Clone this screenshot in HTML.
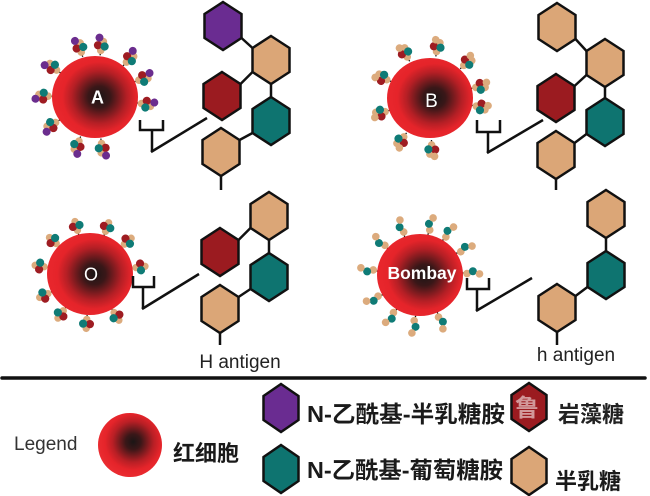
<!DOCTYPE html>
<html><head><meta charset="utf-8"><style>
html,body{margin:0;padding:0;background:#fff;}
svg{display:block;}
text{font-family:"Liberation Sans","Noto Sans CJK SC",sans-serif;}
</style></head><body>
<svg width="650" height="496" viewBox="0 0 650 496" xmlns="http://www.w3.org/2000/svg">
<defs>
<radialGradient id="cell" cx="0.55" cy="0.5" r="0.55">
<stop offset="0" stop-color="#1b1616"/>
<stop offset="0.24" stop-color="#3a1718"/>
<stop offset="0.58" stop-color="#b41f25"/>
<stop offset="0.78" stop-color="#e5242a"/>
<stop offset="1" stop-color="#e9272d"/>
</radialGradient>
<radialGradient id="cellL" cx="0.55" cy="0.45" r="0.55">
<stop offset="0" stop-color="#1b1616"/>
<stop offset="0.22" stop-color="#3a1718"/>
<stop offset="0.58" stop-color="#b81f25"/>
<stop offset="0.8" stop-color="#e5242a"/>
<stop offset="1" stop-color="#ea2b30"/>
</radialGradient>
<polygon id="hx" points="0,-24 18.5,-12 18.5,12 0,24 -18.5,12 -18.5,-12"/>
<polygon id="hxs" points="0,-24 17.5,-12 17.5,12 0,24 -17.5,12 -17.5,-12"/>
<g id="cA">
<line x1="0" y1="0" x2="0" y2="-5" stroke="#111" stroke-width="1.3"/>
<circle cx="1.5" cy="-14" r="3.9" fill="#dcab7d"/>
<circle cx="0" cy="-5" r="3.8" fill="#dcab7d"/>
<circle cx="-3.4" cy="-9.8" r="4.1" fill="#9e1c22"/>
<circle cx="3.4" cy="-9.3" r="4.1" fill="#0f7b76"/>
<circle cx="-2.8" cy="-17.5" r="4" fill="#6b2d8e"/>
</g>
<g id="cB">
<line x1="0" y1="0" x2="0" y2="-5" stroke="#111" stroke-width="1.3"/>
<circle cx="2" cy="-14" r="3.9" fill="#dcab7d"/>
<circle cx="0" cy="-5" r="3.8" fill="#dcab7d"/>
<circle cx="-3.4" cy="-9.8" r="4.1" fill="#9e1c22"/>
<circle cx="3.4" cy="-9.3" r="4.1" fill="#0f7b76"/>
<circle cx="-2.5" cy="-16.5" r="3.8" fill="#dcab7d"/>
</g>
<g id="cO">
<line x1="0" y1="0" x2="0" y2="-5" stroke="#111" stroke-width="1.3"/>
<circle cx="0" cy="-4.5" r="3.7" fill="#dcab7d"/>
<circle cx="0" cy="-13.5" r="3.7" fill="#dcab7d"/>
<circle cx="-3.4" cy="-9" r="4.1" fill="#9e1c22"/>
<circle cx="3.4" cy="-9" r="4.1" fill="#0f7b76"/>
</g>
<g id="cH">
<polyline points="0,0 1,-5 -1,-11 2,-17" fill="none" stroke="#111" stroke-width="1.3"/>
<circle cx="1" cy="-5" r="3.8" fill="#dcab7d"/>
<circle cx="-1" cy="-11" r="4" fill="#0f7b76"/>
<circle cx="2" cy="-17.5" r="3.8" fill="#dcab7d"/>
</g>
</defs>

<!-- ===== Panel A ===== -->
<g>
<use href="#cA" transform="translate(95,97) rotate(-17) translate(0,-42)"/>
<use href="#cA" transform="translate(95,97) rotate(7) translate(0,-42)"/>
<use href="#cA" transform="translate(95,97) rotate(42) translate(0,-42)"/>
<use href="#cA" transform="translate(95,97) rotate(69) translate(0,-42)"/>
<use href="#cA" transform="translate(95,97) rotate(98) translate(0,-42)"/>
<use href="#cA" transform="translate(95,97) rotate(172) translate(0,-42)"/>
<use href="#cA" transform="translate(95,97) rotate(200) translate(0,-42)"/>
<use href="#cA" transform="translate(95,97) rotate(237) translate(0,-42)"/>
<use href="#cA" transform="translate(95,97) rotate(271) translate(0,-42)"/>
<use href="#cA" transform="translate(95,97) rotate(305) translate(0,-42)"/>
<ellipse cx="95" cy="97" rx="43" ry="41" fill="url(#cell)"/>
<text x="97.5" y="103.5" font-size="18" font-weight="bold" fill="#fff" text-anchor="middle">A</text>
<g fill="none" stroke="#111" stroke-width="2.5">
<polyline points="140,120 140,130 163,130 163,120"/>
<line x1="152" y1="130" x2="152" y2="152"/>
<line x1="151" y1="152" x2="207" y2="118"/>
<line x1="241.5" y1="38" x2="252.5" y2="48"/>
<line x1="240.5" y1="84" x2="252.5" y2="72"/>
<line x1="271" y1="84" x2="271" y2="97"/>
<line x1="252.5" y1="133" x2="239.5" y2="140"/>
<line x1="221" y1="176" x2="221" y2="190"/>
</g>
<g stroke="#111" stroke-width="2.5">
<use href="#hx" x="223" y="26" fill="#6a2c91"/>
<use href="#hx" x="271" y="60" fill="#dba677"/>
<use href="#hx" x="222" y="96" fill="#9b1b20"/>
<use href="#hx" x="271" y="121" fill="#0e7470"/>
<use href="#hx" x="221" y="152" fill="#dba677"/>
</g>
</g>

<!-- ===== Panel B ===== -->
<g>
<use href="#cB" transform="translate(430,98) rotate(-29) translate(0,-42)"/>
<use href="#cB" transform="translate(430,98) rotate(8) translate(0,-42)"/>
<use href="#cB" transform="translate(430,98) rotate(46) translate(0,-42)"/>
<use href="#cB" transform="translate(430,98) rotate(77) translate(0,-42)"/>
<use href="#cB" transform="translate(430,98) rotate(100) translate(0,-42)"/>
<use href="#cB" transform="translate(430,98) rotate(178) translate(0,-42)"/>
<use href="#cB" transform="translate(430,98) rotate(214) translate(0,-42)"/>
<use href="#cB" transform="translate(430,98) rotate(253) translate(0,-42)"/>
<use href="#cB" transform="translate(430,98) rotate(293) translate(0,-42)"/>
<ellipse cx="430" cy="98" rx="43" ry="40" fill="url(#cell)"/>
<text x="431.5" y="107" font-size="19" fill="#fff" text-anchor="middle">B</text>
<g fill="none" stroke="#111" stroke-width="2.5">
<polyline points="477,120 477,132 500,132 500,120"/>
<line x1="488" y1="132" x2="488" y2="153"/>
<line x1="487" y1="153" x2="543" y2="120"/>
<line x1="575.5" y1="39" x2="586.5" y2="51"/>
<line x1="574.5" y1="86" x2="586.5" y2="75"/>
<line x1="605" y1="87" x2="605" y2="98"/>
<line x1="586.5" y1="134" x2="574.5" y2="143"/>
<line x1="556" y1="179" x2="556" y2="190"/>
</g>
<g stroke="#111" stroke-width="2.5">
<use href="#hx" x="557" y="27" fill="#dba677"/>
<use href="#hx" x="605" y="63" fill="#dba677"/>
<use href="#hx" x="556" y="98" fill="#9b1b20"/>
<use href="#hx" x="605" y="122" fill="#0e7470"/>
<use href="#hx" x="556" y="155" fill="#dba677"/>
</g>
</g>

<!-- ===== Panel O ===== -->
<g>
<use href="#cO" transform="translate(90,274) rotate(-16) translate(0,-41)"/>
<use href="#cO" transform="translate(90,274) rotate(20) translate(0,-41)"/>
<use href="#cO" transform="translate(90,274) rotate(49) translate(0,-41)"/>
<use href="#cO" transform="translate(90,274) rotate(82) translate(0,-42)"/>
<use href="#cO" transform="translate(90,274) rotate(148) translate(0,-41)"/>
<use href="#cO" transform="translate(90,274) rotate(184) translate(0,-41)"/>
<use href="#cO" transform="translate(90,274) rotate(216) translate(0,-41)"/>
<use href="#cO" transform="translate(90,274) rotate(245) translate(0,-42)"/>
<use href="#cO" transform="translate(90,274) rotate(279) translate(0,-42)"/>
<use href="#cO" transform="translate(90,274) rotate(312) translate(0,-41)"/>
<ellipse cx="90" cy="274" rx="43" ry="41" fill="url(#cell)"/>
<text x="91" y="280.5" font-size="18" fill="#fff" text-anchor="middle">O</text>
<g fill="none" stroke="#111" stroke-width="2.5">
<polyline points="133,276 133,287 154,287 154,276"/>
<line x1="143" y1="287" x2="143" y2="309"/>
<line x1="142" y1="309" x2="199" y2="274"/>
<line x1="238.5" y1="240" x2="250.5" y2="228"/>
<line x1="269" y1="240" x2="269" y2="253"/>
<line x1="250.5" y1="289" x2="238.5" y2="297"/>
<line x1="220" y1="333" x2="220" y2="345"/>
</g>
<g stroke="#111" stroke-width="2.5">
<use href="#hx" x="269" y="216" fill="#dba677"/>
<use href="#hx" x="220" y="252" fill="#9b1b20"/>
<use href="#hx" x="269" y="277" fill="#0e7470"/>
<use href="#hx" x="220" y="309" fill="#dba677"/>
</g>
<text x="240" y="368" font-size="19" fill="#222" text-anchor="middle">H antigen</text>
</g>

<!-- ===== Panel Bombay ===== -->
<g>
<use href="#cH" transform="translate(420,275) rotate(-51) translate(0,-41)"/>
<use href="#cH" transform="translate(420,275) rotate(-22) translate(0,-41)"/>
<use href="#cH" transform="translate(420,275) rotate(11) translate(0,-41)"/>
<use href="#cH" transform="translate(420,275) rotate(33) translate(0,-41)"/>
<use href="#cH" transform="translate(420,275) rotate(59) translate(0,-42)"/>
<use href="#cH" transform="translate(420,275) rotate(87) translate(0,-42)"/>
<use href="#cH" transform="translate(420,275) rotate(155) translate(0,-41)"/>
<use href="#cH" transform="translate(420,275) rotate(186) translate(0,-41)"/>
<use href="#cH" transform="translate(420,275) rotate(214) translate(0,-41)"/>
<use href="#cH" transform="translate(420,275) rotate(242) translate(0,-42)"/>
<use href="#cH" transform="translate(420,275) rotate(275) translate(0,-42)"/>
<ellipse cx="420" cy="275" rx="43" ry="41" fill="url(#cell)"/>
<text x="422" y="279" font-size="17.5" font-weight="bold" fill="#fff" text-anchor="middle">Bombay</text>
<g fill="none" stroke="#111" stroke-width="2.5">
<polyline points="467,278 467,289 489,289 489,278"/>
<line x1="477" y1="289" x2="477" y2="311"/>
<line x1="476" y1="311" x2="532" y2="278"/>
<line x1="606" y1="238" x2="606" y2="251"/>
<line x1="587.5" y1="287" x2="575.5" y2="296"/>
<line x1="557" y1="332" x2="557" y2="345"/>
</g>
<g stroke="#111" stroke-width="2.5">
<use href="#hx" x="606" y="214" fill="#dba677"/>
<use href="#hx" x="606" y="275" fill="#0e7470"/>
<use href="#hx" x="557" y="308" fill="#dba677"/>
</g>
<text x="576" y="361" font-size="19" fill="#222" text-anchor="middle">h antigen</text>
</g>

<!-- separator -->
<line x1="2" y1="378" x2="645" y2="378" stroke="#111" stroke-width="3.5" stroke-linecap="round"/>

<!-- ===== Legend ===== -->
<text x="14" y="450" font-size="19" fill="#333">Legend</text>
<circle cx="130" cy="445" r="32" fill="url(#cellL)"/>
<text x="173" y="461" font-size="22" font-weight="bold" fill="#1a1a1a">红细胞</text>

<g stroke="#111" stroke-width="2.5">
<use href="#hxs" x="281" y="408" fill="#6a2c91"/>
<use href="#hxs" x="281" y="469" fill="#0e7470"/>
<use href="#hxs" x="529" y="407" fill="#9b1b20"/>
<use href="#hxs" x="529" y="471" fill="#dba677"/>
</g>
<text x="527" y="416" font-size="24" font-weight="bold" fill="#ffffff" fill-opacity="0.55" text-anchor="middle">鲁</text>
<text x="307" y="422" font-size="23" font-weight="bold" fill="#1a1a1a" textLength="198" lengthAdjust="spacingAndGlyphs">N-乙酰基-半乳糖胺</text>
<text x="307" y="478" font-size="23" font-weight="bold" fill="#1a1a1a" textLength="196" lengthAdjust="spacingAndGlyphs">N-乙酰基-葡萄糖胺</text>
<text x="558" y="422" font-size="22" font-weight="bold" fill="#222">岩藻糖</text>
<text x="555" y="489" font-size="22" font-weight="bold" fill="#1a1a1a">半乳糖</text>
</svg>
</body></html>
